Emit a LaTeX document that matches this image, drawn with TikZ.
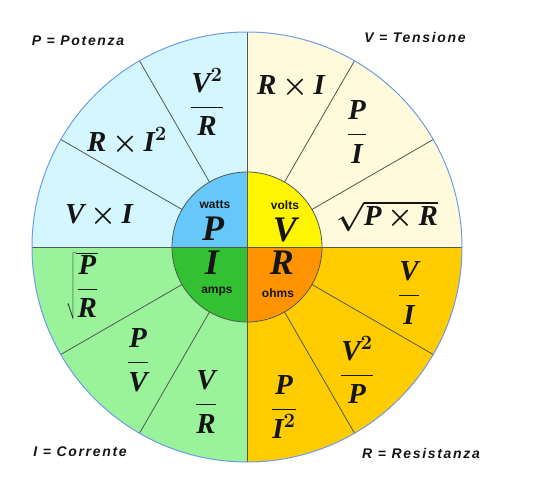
\RequirePackage{fix-cm}
\documentclass[tikz,border=0pt]{standalone}
\usepackage{fontspec}
\setmainfont{Liberation Serif}
\newfontfamily\legendfont[LetterSpace=12]{Liberation Sans}
\newfontfamily\unitfont{Liberation Sans}
\definecolor{PowCyan}{HTML}{D4F7FF}
\definecolor{PowBlue}{HTML}{66C8FA}
\definecolor{VolCream}{HTML}{FFFADC}
\definecolor{VolYellow}{HTML}{FFF500}
\definecolor{CurGreen}{HTML}{9AF29A}
\definecolor{CurDark}{HTML}{33C133}
\definecolor{ResGold}{HTML}{FFCC00}
\definecolor{ResOrange}{HTML}{FF9400}
\definecolor{RimBlue}{HTML}{6E9BEA}
\definecolor{SpokeGray}{HTML}{4F5A50}
\definecolor{Ink}{HTML}{151515}
\newcommand{\bi}[1]{\mbox{\bfseries\itshape #1}}
\newcommand{\tms}{\mskip3mu\mathord{\times}\mskip3mu}
\tikzset{
  formula/.style={font=\fontsize{29}{31}\selectfont\boldmath, text=Ink, inner sep=0pt},
  bigsym/.style={font=\fontsize{36}{38}\selectfont\bfseries\itshape, text=Ink, inner sep=0pt},
  unit/.style={font=\unitfont\fontsize{12}{13}\selectfont\bfseries, text=Ink, inner sep=0pt},
  legend/.style={font=\legendfont\fontsize{14}{15}\selectfont\bfseries\itshape, text=Ink, inner sep=0pt},
  spoke/.style={draw=SpokeGray, line width=0.8pt}
}

\begin{document}
\begin{tikzpicture}[x=1pt,y=1pt]
    \useasboundingbox (-247,-252) rectangle (302,247);
    \coordinate (c) at (0,0);

    % outer quadrants
    \fill[PowCyan]  (c) -- (180:215) arc[start angle=180,end angle=90,radius=215] -- cycle;
    \fill[VolCream] (c) -- (90:215) arc[start angle=90,end angle=0,radius=215] -- cycle;
    \fill[CurGreen] (c) -- (180:215) arc[start angle=180,end angle=270,radius=215] -- cycle;
    \fill[ResGold]  (c) -- (270:215) arc[start angle=270,end angle=360,radius=215] -- cycle;

    \foreach \a in {30,60,120,150,210,240,300,330}
      \draw[spoke] (\a:75) -- (\a:215);

    % inner quadrants
    \fill[PowBlue]   (c) -- (180:75) arc[start angle=180,end angle=90,radius=75] -- cycle;
    \fill[VolYellow] (c) -- (90:75) arc[start angle=90,end angle=0,radius=75] -- cycle;
    \fill[CurDark]   (c) -- (180:75) arc[start angle=180,end angle=270,radius=75] -- cycle;
    \fill[ResOrange] (c) -- (270:75) arc[start angle=270,end angle=360,radius=75] -- cycle;
    \draw[spoke] (c) circle[radius=75];
    \draw[spoke] (180:215) -- (0:215);
    \draw[spoke] (90:215) -- (270:215);
    \draw[RimBlue, line width=1pt] (c) circle[radius=215];

    % centre symbols
    \node[unit]   (watts) at (-32,42) {watts};
    \node[bigsym] (symP)  at (-34,18) {P};
    \node[unit]   (volts) at (38,42) {volts};
    \node[bigsym] (symV)  at (38,17) {V};
    \node[bigsym] (symI)  at (-35,-16) {I};
    \node[unit]   (amps)  at (-30,-45) {amps};
    \node[bigsym] (symR)  at (35,-16) {R};
    \node[unit]   (ohms)  at (31,-46) {ohms};

    % power
    \node[formula] (pVR)  at (-40,145)  {$\displaystyle\frac{\bi{V}^2}{\bi{R}}$};
    \node[formula] (pRI)  at (-120,106) {$\bi{R}\tms\bi{I}^2$};
    \node[formula] (pVI)  at (-148,31)  {$\bi{V}\tms\bi{I}$};
    % voltage
    \node[formula] (vRI)  at (44,160)   {$\bi{R}\tms\bi{I}$};
    \node[formula] (vPI)  at (110,115)  {$\displaystyle\frac{\bi{P}}{\bi{I}}$};
    \node[formula] (vPR)  at (140,31)   {$\sqrt{\bi{P}\tms\bi{R}}$};
    % current
    \node[formula] (iPR)  at (-165,-39) {$\sqrt{\displaystyle\frac{\bi{P}}{\bi{R}}}$};
    \node[formula] (iPV)  at (-109,-113) {$\displaystyle\frac{\bi{P}}{\bi{V}}$};
    \node[formula] (iVR)  at (-41,-155) {$\displaystyle\frac{\bi{V}}{\bi{R}}$};
    % resistance
    \node[formula] (rVI)  at (162,-46)  {$\displaystyle\frac{\bi{V}}{\bi{I}}$};
    \node[formula] (rVP)  at (110,-123) {$\displaystyle\frac{\bi{V}^2}{\bi{P}}$};
    \node[formula] (rPI)  at (37,-160)  {$\displaystyle\frac{\bi{P}}{\bi{I}^2}$};

    % legend
    \node[legend] (legP) at (-169,206) {P = Potenza};
    \node[legend] (legV) at (168,210)  {V = Tensione};
    \node[legend] (legI) at (-167,-205) {I = Corrente};
    \node[legend] (legR) at (174,-206) {R = Resistanza};
  \end{tikzpicture}
\end{document}
